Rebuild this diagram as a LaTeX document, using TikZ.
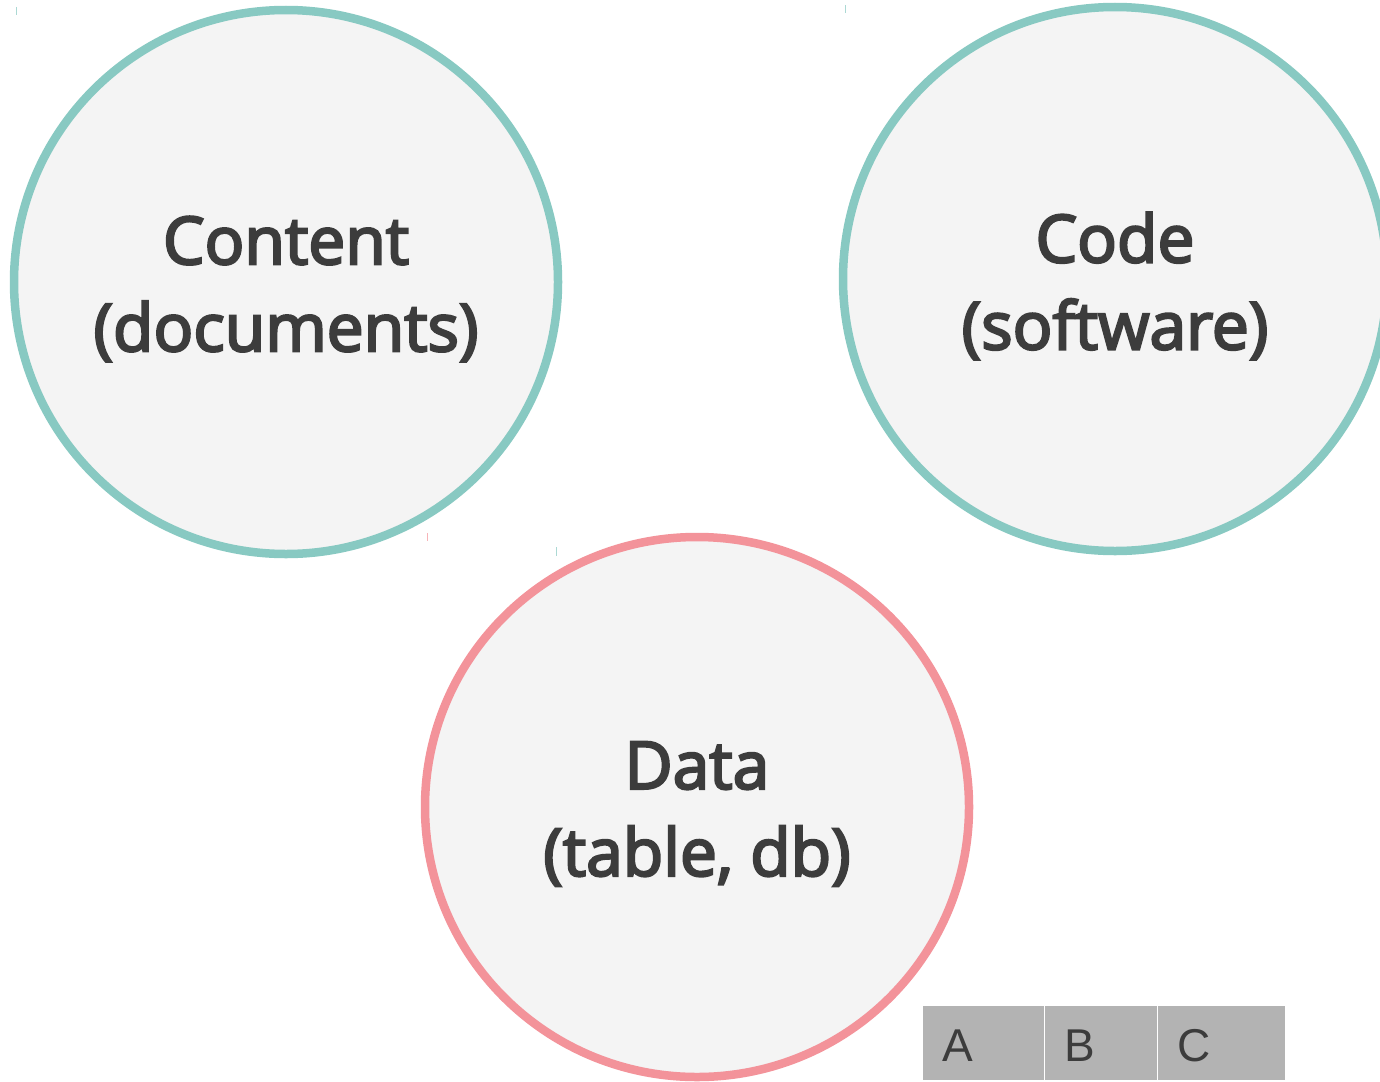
\documentclass[tikz,border=0pt]{standalone}
\usepackage{fontspec}
\setmainfont{Open Sans}
\newfontfamily\semib{Open Sans}[FakeBold=3.5]
\newfontfamily\tabfont{Liberation Sans}
\definecolor{teal1}{HTML}{88C9C2}
\definecolor{pink1}{HTML}{F3939A}
\definecolor{fillg}{HTML}{F4F4F4}
\definecolor{txt}{HTML}{3C3C3C}
\definecolor{cellg}{HTML}{B3B3B3}
\begin{document}
\begin{tikzpicture}[x=1pt,y=-1pt,
  bubble/.style={draw, fill=fillg, line width=8.5pt},
  lbl/.style={text=txt, font=\semib\fontsize{66}{87}\selectfont, align=center},
  cell/.style={fill=cellg, draw=none, minimum height=74pt, inner sep=0pt, anchor=north west},
  celltxt/.style={text=txt, font=\tabfont\fontsize{46}{50}\selectfont, anchor=base west, inner sep=0pt},
  tick/.style={line width=1pt}]
\useasboundingbox (0,0) rectangle (1380,1081);
\begin{scope}
\clip (0,0) rectangle (1380,1081);
\draw[bubble, draw=teal1] (286,282) ellipse [x radius=272, y radius=272];
\draw[bubble, draw=teal1] (1115,279) ellipse [x radius=272, y radius=272];
\draw[bubble, draw=pink1] (697,807) ellipse [x radius=272, y radius=270];
\end{scope}
\node[lbl] (content) at (286,289) {Content\\(documents)};
\node[lbl] (code) at (1115,286) {Code\\(software)};
\node[lbl] (data) at (697,814) {Data\\(table, db)};
\node[cell, minimum width=121pt] (ca) at (923,1006) {};
\node[cell, minimum width=112pt] (cb) at (1045,1006) {};
\node[cell, minimum width=127pt] (cc) at (1158,1006) {};
\node[celltxt] (ta) at (942,1061) {A};
\node[celltxt] (tb) at (1064,1061) {B};
\node[celltxt] (tc) at (1177,1061) {C};
\draw[tick, teal1!70] (16,7) -- (16,15);
\draw[tick, teal1!70] (845,5) -- (845,13);
\draw[tick, pink1!70] (427,533) -- (427,541);
\draw[tick, teal1!70] (556,547) -- (556,556);
\end{tikzpicture}
\end{document}
